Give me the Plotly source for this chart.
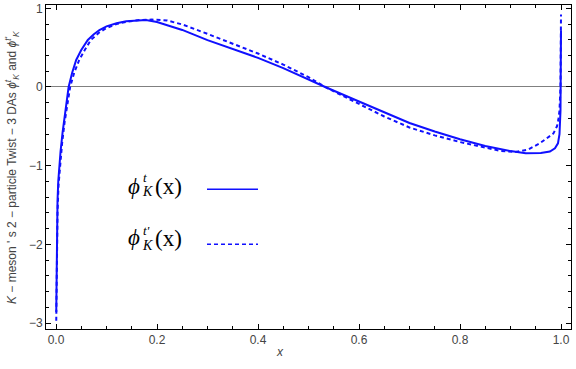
import plotly.graph_objects as go

# solid curve: phi_K^t(x)
x_t = [0.0005, 0.001, 0.002, 0.003, 0.0045, 0.0066, 0.009, 0.013, 0.017, 0.021,
       0.025, 0.032, 0.040, 0.050, 0.063, 0.075, 0.086, 0.10, 0.12, 0.139,
       0.16, 0.178, 0.20, 0.25, 0.30, 0.35, 0.40, 0.45, 0.50, 0.533,
       0.60, 0.65, 0.70, 0.75, 0.80, 0.85, 0.90, 0.93, 0.96, 0.978,
       0.988, 0.994, 0.997, 0.999, 0.9995, 1.0]
y_t = [-2.86, -2.4, -1.85, -1.45, -1.2, -1.0, -0.82, -0.58, -0.36, -0.165,
       0.0, 0.18, 0.343, 0.47, 0.597, 0.67, 0.724, 0.77, 0.81, 0.835,
       0.848, 0.85, 0.825, 0.725, 0.595, 0.48, 0.37, 0.24, 0.095, 0.0,
       -0.184, -0.32, -0.458, -0.566, -0.665, -0.75, -0.815, -0.843, -0.84, -0.82,
       -0.78, -0.716, -0.6, -0.3, 0.0, 0.72]

# dashed curve: phi_K^t'(x)
x_tp = [0.0005, 0.001, 0.002, 0.003, 0.005, 0.008, 0.012, 0.017, 0.022, 0.028,
        0.036, 0.046, 0.057, 0.069, 0.085, 0.10, 0.12, 0.14, 0.165, 0.19,
        0.22, 0.25, 0.30, 0.35, 0.40, 0.45, 0.50, 0.533, 0.60, 0.65,
        0.70, 0.75, 0.80, 0.85, 0.88, 0.91, 0.935, 0.958, 0.975, 0.985,
        0.992, 0.9947, 0.997, 0.999, 1.0]
y_tp = [-2.97, -2.5, -1.95, -1.6, -1.25, -1.0, -0.72, -0.45, -0.22, 0.0,
        0.18, 0.343, 0.47, 0.597, 0.69, 0.75, 0.80, 0.83, 0.85, 0.857,
        0.845, 0.795, 0.675, 0.55, 0.425, 0.285, 0.125, 0.0, -0.22, -0.375,
        -0.515, -0.615, -0.70, -0.775, -0.812, -0.825, -0.795, -0.716, -0.64, -0.59,
        -0.5, -0.42, -0.3, 0.0, 0.92]

x_ticks = [0.0, 0.2, 0.4, 0.6, 0.8, 1.0]
x_ticklabels = ["0.0", "0.2", "0.4", "0.6", "0.8", "1.0"]
y_ticks = [1, 0, -1, -2, -3]
y_ticklabels = ["1", "0", "\u22121", "\u22122", "\u22123"]

BLUE = "#1010ff"

fig = go.Figure()
fig.add_trace(go.Scatter(x=x_t, y=y_t, mode="lines",
                         line=dict(color=BLUE, width=2)))
fig.add_trace(go.Scatter(x=x_tp, y=y_tp, mode="lines",
                         line=dict(color=BLUE, width=2, dash="4px,3px")))

W, H = 576, 369
L, R, T, B = 46, 5, 5, 40
pw, ph = W - L - R, H - T - B


def px(x):
    return (x - L) / pw


def py(y):
    return (H - B - y) / ph


serif = "Liberation Serif"
sans = "Liberation Sans"
ann = []
# legend entries built from pieces so the sub/superscripts stack like the original
# (phi y, sup y, K y, "(x)" y, superscript text)
for yp, ys, yk, yx, sup in [(186, 178, 191, 186, "t"), (237, 230, 245, 238, "t'")]:
    ann.append(dict(x=px(134), y=py(yp), text="<i>\u03d5</i>",
                    font=dict(family=serif, size=23, color="black")))
    ann.append(dict(x=px(141), y=py(ys), text="<i>" + sup + "</i>",
                    font=dict(family=serif, size=13, color="black"),
                    xanchor="left"))
    ann.append(dict(x=px(139.5), y=py(yk), text="<i>K</i>",
                    font=dict(family=serif, size=14, color="black"),
                    xanchor="left"))
    ann.append(dict(x=px(153), y=py(yx), text="(x)",
                    font=dict(family=serif, size=23, color="black"),
                    xanchor="left"))
for a in ann:
    a.update(xref="paper", yref="paper", showarrow=False, yanchor="middle",
             xanchor=a.get("xanchor", "center"))

fig.add_shape(type="line", xref="paper", yref="paper",
              x0=px(207), x1=px(258), y0=py(189.3), y1=py(189.3),
              line=dict(color=BLUE, width=1.5))
fig.add_shape(type="line", xref="paper", yref="paper",
              x0=px(207), x1=px(258), y0=py(244.3), y1=py(244.3),
              line=dict(color=BLUE, width=1.5, dash="4px,3px"))

ann.append(dict(x=px(280), y=py(361), xref="paper", yref="paper", showarrow=False,
                text="<i>x</i>", font=dict(family=sans, size=12, color="#444")))
ann.append(dict(x=px(12), y=py(168), xref="paper", yref="paper", showarrow=False,
                textangle=-90, xanchor="center", yanchor="middle",
                text="<i>K</i> \u2212 meson ' s 2 \u2212 particle Twist \u2212 3 DAs "
                     "<i>\u03d5</i><sup><i>t</i></sup><sub><i>K</i></sub> and "
                     "<i>\u03d5</i><sup><i>t'</i></sup><sub><i>K</i></sub>",
                font=dict(family=sans, size=12, color="#444")))

fig.update_layout(
    width=W, height=H,
    margin=dict(l=L, r=R, t=T, b=B, autoexpand=False),
    plot_bgcolor="white", paper_bgcolor="white",
    showlegend=False,
    annotations=ann,
    font=dict(family=sans, size=12, color="#444"),
)
fig.update_xaxes(
    range=[-0.0198, 1.0198], tickvals=x_ticks, ticktext=x_ticklabels,
    showgrid=False, zeroline=False, automargin=False,
    showline=True, linecolor="black", linewidth=1, mirror="ticks",
    ticks="inside", ticklen=5, tickcolor="black",
    minor=dict(dtick=0.05, tick0=0, ticks="inside", ticklen=3, tickcolor="black"),
)
fig.update_yaxes(
    range=[-3.076, 1.042], tickvals=y_ticks, ticktext=y_ticklabels,
    showgrid=False, zeroline=True, zerolinecolor="#808080", zerolinewidth=1,
    automargin=False,
    showline=True, linecolor="black", linewidth=1, mirror="ticks",
    ticks="inside", ticklen=5, tickcolor="black",
    minor=dict(dtick=0.2, tick0=0, ticks="inside", ticklen=3, tickcolor="black"),
)

# the page's default body margin would push the figure 8px right/down
fig.write_html("out.html", config={"displayModeBar": False},
               post_script="document.body.style.margin='0';")
